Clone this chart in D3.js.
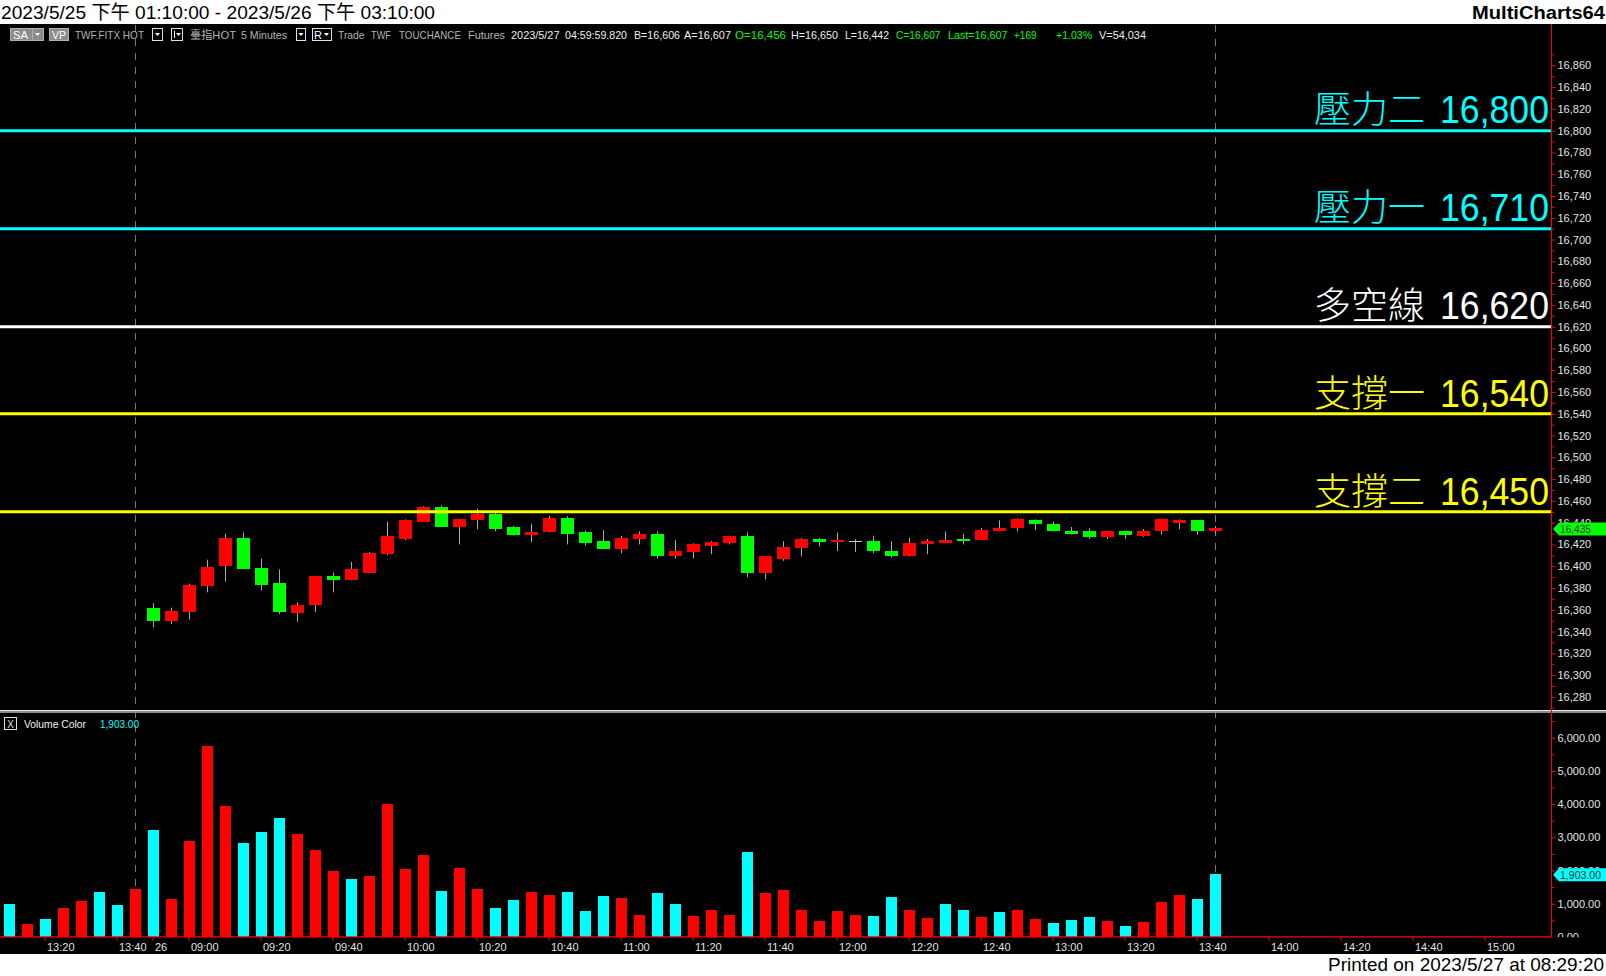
<!DOCTYPE html>
<html><head><meta charset="utf-8">
<script src="https://cdn.jsdelivr.net/npm/d3@7"></script>
<style>html,body{margin:0;padding:0;background:#fff;overflow:hidden}</style>
</head><body>
<svg id="c" width="1606" height="976"></svg>
<script>
// ---------------- DATA ----------------
const day1Times = ["13:10","13:15","13:20","13:25","13:30","13:35","13:40","13:45"];
const day2Times = ["08:50","08:55",
  "09:00","09:05","09:10","09:15","09:20","09:25","09:30","09:35","09:40","09:45","09:50","09:55",
  "10:00","10:05","10:10","10:15","10:20","10:25","10:30","10:35","10:40","10:45","10:50","10:55",
  "11:00","11:05","11:10","11:15","11:20","11:25","11:30","11:35","11:40","11:45","11:50","11:55",
  "12:00","12:05","12:10","12:15","12:20","12:25","12:30","12:35","12:40","12:45","12:50","12:55",
  "13:00","13:05","13:10","13:15","13:20","13:25","13:30","13:35","13:40","13:45"];
const day2EmptyTimes = ["13:50","13:55","14:00","14:05","14:10","14:15","14:20","14:25","14:30",
  "14:35","14:40","14:45","14:50","14:55","15:00","15:05","15:10"];

// OHLC (5/25 bars are outside the visible price range -> null)
const open  = [null,null,null,null,null,null,null,null,
  16362,16350,16358,16382,16400,16426,16398,16385,16357,16364,16391,16387,16394,16411,16425,16441,
  16454,16436,16442,16448,16436,16429,16431,16444,16431,16423,16416,16425,16430,16409,16413,16419,
  16421,16428,16394,16407,16417,16425,16422,16423,16423,16414,16409,16420,16421,16425,16424,16432,
  16435,16442,16439,16432,16432,16427,16432,16428,16432,16440,16442,16432];
const high  = [null,null,null,null,null,null,null,null,
  16366,16362,16384,16406,16430,16431,16407,16397,16367,16391,16394,16404,16413,16441,16443,16455,
  16456,16443,16453,16449,16437,16439,16446,16446,16433,16433,16428,16432,16432,16424,16421,16423,
  16428,16431,16409,16423,16426,16426,16431,16425,16428,16423,16426,16425,16432,16430,16435,16442,
  16444,16443,16441,16436,16435,16432,16432,16434,16443,16443,16442,16437];
const low   = [null,null,null,null,null,null,null,null,
  16344,16347,16351,16376,16386,16397,16378,16356,16349,16358,16376,16387,16394,16410,16424,16441,
  16436,16420,16434,16432,16428,16422,16431,16420,16419,16416,16412,16420,16407,16407,16407,16411,
  16420,16390,16388,16405,16409,16418,16414,16413,16412,16408,16409,16411,16421,16420,16424,16432,
  16432,16433,16432,16429,16425,16425,16425,16427,16429,16434,16429,16430];
const close = [null,null,null,null,null,null,null,null,
  16350,16359,16383,16399,16426,16397,16383,16358,16364,16391,16387,16397,16412,16428,16442,16454,
  16436,16443,16448,16434,16429,16431,16444,16430,16421,16416,16426,16430,16409,16414,16420,16422,
  16428,16394,16409,16418,16425,16422,16424,16423,16414,16409,16421,16423,16424,16423,16433,16435,
  16443,16439,16432,16430,16427,16432,16429,16432,16443,16442,16432,16435];

const volume = [979,398,551,857,1071,1346,949,1438,
  3213,1132,2876,5753,3947,2815,3152,3580,3091,2632,1989,1744,1836,4009,2050,2479,
  1377,2081,1438,857,1102,1346,1255,1346,774,1232,1171,651,1323,987,621,804,
  651,2545,1323,1415,804,468,774,651,621,1201,804,560,987,804,590,743,
  804,529,407,499,590,468,316,438,1049,1262,1140,1903];
const volumeDir = ["d","u","d","u","u","d","d","u",
  "d","u","u","u","u","d","d","d","u","u","u","d","u","u","u","u",
  "d","u","u","d","d","u","u","d","d","d","u","u","d","d","u","u",
  "u","d","u","u","u","u","u","u","d","d","u","u","d","d","u","d",
  "u","u","d","d","d","u","d","u","u","u","d","d"];

const levelValues = [16800, 16710, 16620, 16540, 16450];
const levelNames  = ["壓力二", "壓力一", "多空線", "支撐一", "支撐二"];

const priceTicks = [16280,16300,16320,16340,16360,16380,16400,16420,16440,16460,16480,16500,
  16520,16540,16560,16580,16600,16620,16640,16660,16680,16700,16720,16740,16760,16780,16800,
  16820,16840,16860];
const priceMinorTicks = [16270,16290,16310,16330,16350,16370,16390,16410,16430,16450,16470,16490,
  16510,16530,16550,16570,16590,16610,16630,16650,16670,16690,16710,16730,16750,16770,16790,
  16810,16830,16850,16870];
const volumeTicks = [0,1000,2000,3000,4000,5000,6000];
const volumeMinorTicks = [500,1500,2500,3500,4500,5500,6500];

const timeTickSlots  = ["5/25 13:20","5/25 13:40","5/26 08:50","5/26 09:00","5/26 09:20","5/26 09:40",
  "5/26 10:00","5/26 10:20","5/26 10:40","5/26 11:00","5/26 11:20","5/26 11:40","5/26 12:00",
  "5/26 12:20","5/26 12:40","5/26 13:00","5/26 13:20","5/26 13:40","5/26 14:00","5/26 14:20",
  "5/26 14:40","5/26 15:00"];
const timeTickLabels = ["13:20","13:40","26","09:00","09:20","09:40","10:00","10:20","10:40","11:00",
  "11:20","11:40","12:00","12:20","12:40","13:00","13:20","13:40","14:00","14:20","14:40","15:00"];
const sessionEnds = ["5/25 13:45","5/26 13:45"];

const titleText = "2023/5/25 下午 01:10:00 - 2023/5/26 下午 03:10:00";
const printedText = "Printed on 2023/5/27 at 08:29:20";

// ---------------- STYLE ----------------
const FONT = "'Liberation Sans', Arial, 'Noto Sans CJK TC', sans-serif";
const CJK = "'Noto Sans CJK TC', 'Noto Sans CJK SC', sans-serif";
const levelColor = name => name.startsWith("壓力") ? "#00ffff" : name.startsWith("支撐") ? "#ffff00" : "#ffffff";
const UP = "#ff0000", DOWN = "#00ff00", VUP = "#ff0000", VDOWN = "#00ffff";
const AXIS = "#ff0000", LABEL = "#e4e4e4";

// ---------------- SCALES ----------------
const barSlots = day1Times.map(t => "5/25 " + t).concat(day2Times.map(t => "5/26 " + t));
const slots = barSlots.concat(day2EmptyTimes.map(t => "5/26 " + t));
const x = d3.scaleBand().domain(slots).range([0, 1530]).padding(0);
const cx = s => x(s) + x.bandwidth() / 2;
const yP = d3.scaleLinear().domain([16280, 16860]).range([696.9, 65.3]);
const yV = d3.scaleLinear().domain([0, 6000]).range([936.9, 737.7]);
const AX = 1551.5;

const svg = d3.select("#c");
svg.append("rect").attr("width", 1606).attr("height", 976).attr("fill", "#fff");
svg.append("rect").attr("x", 0).attr("y", 24).attr("width", 1606).attr("height", 930).attr("fill", "#000");

const defs = svg.append("defs");
defs.append("clipPath").attr("id", "pp").append("rect").attr("x", 0).attr("y", 42).attr("width", 1551).attr("height", 667);
defs.append("clipPath").attr("id", "vp").append("rect").attr("x", 0).attr("y", 713).attr("width", 1551).attr("height", 224);
defs.append("clipPath").attr("id", "vax").append("rect").attr("x", 1540).attr("y", 713).attr("width", 66).attr("height", 224.3);
defs.append("clipPath").attr("id", "pax").append("rect").attr("x", 1540).attr("y", 42).attr("width", 66).attr("height", 667);

function narrow(sel, w) {
  sel.attr("textLength", w).attr("lengthAdjust", "spacingAndGlyphs");
  return sel;
}

// session end dashed lines
svg.append("g").selectAll("line").data(sessionEnds).join("line")
  .attr("x1", d => Math.round(cx(d)) + 0.5).attr("x2", d => Math.round(cx(d)) + 0.5)
  .attr("y1", 25).attr("y2", 936)
  .attr("stroke", "#7a7a7a").attr("stroke-width", 1).attr("stroke-dasharray", "7,7");

// ---------------- PRICE PANEL ----------------
const bars = barSlots.map((s, i) => ({ s, o: open[i], h: high[i], l: low[i], c: close[i] })).filter(d => d.o != null);
const gP = svg.append("g").attr("clip-path", "url(#pp)");
gP.selectAll("line.wick").data(bars).join("line").attr("class", "wick")
  .attr("x1", d => Math.round(cx(d.s)) + 0.5).attr("x2", d => Math.round(cx(d.s)) + 0.5)
  .attr("y1", d => yP(d.h)).attr("y2", d => yP(d.l))
  .attr("stroke", "#a8a8a8").attr("stroke-width", 1);
gP.selectAll("rect.body").data(bars).join("rect").attr("class", "body")
  .attr("shape-rendering", "crispEdges")
  .attr("x", d => Math.round(cx(d.s)) - 6).attr("width", 13)
  .attr("y", d => d.o === d.c ? yP(d.o) - 0.5 : yP(Math.max(d.o, d.c)))
  .attr("height", d => Math.max(1, Math.abs(yP(d.o) - yP(d.c))))
  .attr("fill", d => d.c > d.o ? UP : d.c < d.o ? DOWN : "#c8c8c8");

// level lines + labels
const gL = svg.append("g");
levelValues.forEach((v, i) => {
  const col = levelColor(levelNames[i]);
  const yy = yP(v);
  gL.append("line").attr("x1", 0).attr("x2", 1551).attr("y1", yy).attr("y2", yy)
    .attr("stroke", col).attr("stroke-width", 3);
  narrow(gL.append("text").attr("x", 1549).attr("y", yy - 7.2).attr("text-anchor", "end")
    .attr("font-family", FONT).attr("font-size", 38).attr("fill", col)
    .text(d3.format(",")(v)), 109);
  gL.append("text").attr("x", 1425).attr("y", yy - 7.2).attr("text-anchor", "end")
    .attr("font-family", CJK).attr("font-weight", 300).attr("font-size", 37).attr("fill", col)
    .text(levelNames[i]);
});

// ---------------- VOLUME PANEL ----------------
const vols = barSlots.map((s, i) => ({ s, v: volume[i], d: volumeDir[i] }));
svg.append("g").attr("clip-path", "url(#vp)").selectAll("rect").data(vols).join("rect")
  .attr("shape-rendering", "crispEdges")
  .attr("x", d => Math.round(cx(d.s)) - 5).attr("width", 11)
  .attr("y", d => yV(d.v)).attr("height", d => yV(0) - yV(d.v))
  .attr("fill", d => d.d === "u" ? VUP : VDOWN);

// separator between panels
svg.append("rect").attr("x", 0).attr("y", 710).attr("width", 1606).attr("height", 1.6).attr("fill", "#e8e8e8");
svg.append("rect").attr("x", 0).attr("y", 711.6).attr("width", 1606).attr("height", 1.4).attr("fill", "#8a8a8a");

// ---------------- AXES ----------------
function styleAxis(g) {
  g.select(".domain").remove();
  g.selectAll(".tick line").attr("stroke", AXIS);
  g.selectAll(".tick text").attr("fill", LABEL).attr("font-family", FONT).attr("font-size", 11);
}
const clipP = svg.append("g").attr("clip-path", "url(#pax)");
clipP.append("g").attr("transform", `translate(${AX},0)`)
  .call(d3.axisRight(yP).tickValues(priceTicks).tickSize(4).tickPadding(2).tickFormat(d3.format(",")))
  .call(styleAxis);
clipP.append("g").attr("transform", `translate(${AX},0)`)
  .call(d3.axisRight(yP).tickValues(priceMinorTicks).tickSize(3).tickFormat(""))
  .call(styleAxis);

const clipV = svg.append("g").attr("clip-path", "url(#vax)");
clipV.append("g").attr("transform", `translate(${AX},0)`)
  .call(d3.axisRight(yV).tickValues(volumeTicks).tickSize(4).tickPadding(2).tickFormat(d3.format(",.2f")))
  .call(styleAxis);
clipV.append("g").attr("transform", `translate(${AX},0)`)
  .call(d3.axisRight(yV).tickValues(volumeMinorTicks).tickSize(3).tickFormat(""))
  .call(styleAxis);

const labelMap = new Map(timeTickSlots.map((s, i) => [s, timeTickLabels[i]]));
const gta = svg.append("g").attr("transform", `translate(0,${yV(0)})`);
gta.call(d3.axisBottom(x).tickValues(timeTickSlots).tickSize(4).tickPadding(2).tickFormat(s => labelMap.get(s)))
  .call(styleAxis);
gta.selectAll(".tick text").attr("text-anchor", "start").attr("x", 2);

// axis lines
svg.append("line").attr("x1", AX).attr("x2", AX).attr("y1", 24).attr("y2", yV(0)).attr("stroke", AXIS).attr("stroke-width", 1);
svg.append("line").attr("x1", 0).attr("x2", AX).attr("y1", yV(0)).attr("y2", yV(0)).attr("stroke", AXIS).attr("stroke-width", 1.4);

// ---------------- MARKERS ----------------
function marker(yy, fill, txt, w) {
  const g = svg.append("g");
  g.append("path").attr("d", `M1553,${yy} L1559,${yy - 6.5} L1606,${yy - 6.5} L1606,${yy + 6.5} L1559,${yy + 6.5} Z`).attr("fill", fill);
  narrow(g.append("text").attr("x", 1560).attr("y", yy + 4).attr("font-family", FONT).attr("font-size", 11)
    .attr("fill", "#303030").text(txt), w);
}
const lastClose = close[close.length - 1];
const lastVol = volume[volume.length - 1];
marker(yP(lastClose) + 1, "#00ff00", d3.format(",")(lastClose), 31);
marker(yV(lastVol) + 1, "#00ffff", d3.format(",.2f")(lastVol), 41);

// volume panel header
svg.append("rect").attr("x", 4.5).attr("y", 717.5).attr("width", 12).attr("height", 12).attr("fill", "none").attr("stroke", "#e0e0e0");
svg.append("text").attr("x", 10.5).attr("y", 727.5).attr("text-anchor", "middle").attr("font-family", FONT).attr("font-size", 10).attr("fill", "#e0e0e0").text("X");
narrow(svg.append("text").attr("x", 24).attr("y", 727.5).attr("font-family", FONT).attr("font-size", 11).attr("fill", "#f0f0f0").text("Volume Color"), 62);
narrow(svg.append("text").attr("x", 100).attr("y", 727.5).attr("font-family", FONT).attr("font-size", 11).attr("fill", "#00ffff").text(d3.format(",.2f")(lastVol)), 39);

// ---------------- HEADER / TOOLBAR ----------------
narrow(svg.append("text").attr("x", 1).attr("y", 19).attr("font-family", FONT).attr("font-size", 19).attr("fill", "#000").text(titleText), 434);
narrow(svg.append("text").attr("x", 1605).attr("y", 19).attr("text-anchor", "end").attr("font-family", FONT).attr("font-weight", "bold").attr("font-size", 19).attr("fill", "#000").text("MultiCharts64"), 133);
narrow(svg.append("text").attr("x", 1604).attr("y", 971).attr("text-anchor", "end").attr("font-family", FONT).attr("font-size", 19).attr("fill", "#000").text(printedText), 276);

const tb = svg.append("g");
function box(x0, x1, fill, stroke) {
  tb.append("rect").attr("x", x0 + 0.5).attr("y", 28.5).attr("width", x1 - x0).attr("height", 12)
    .attr("fill", fill).attr("stroke", stroke);
}
function tri(xc) {
  tb.append("path").attr("d", `M${xc - 2.5},33 L${xc + 2.5},33 L${xc},36 Z`).attr("fill", "#fff");
}
box(10, 32, "#8c8c8c", "#b0b0b0"); box(32, 43, "#8c8c8c", "#b0b0b0"); tri(37.5);
box(49, 68, "#8c8c8c", "#b0b0b0");
box(152, 162, "#000", "#e0e0e0"); tri(157.5);
box(171, 182, "#000", "#e0e0e0"); tri(178.5);
tb.append("line").attr("x1", 174.5).attr("x2", 174.5).attr("y1", 31).attr("y2", 38).attr("stroke", "#fff");
box(296, 305, "#000", "#e0e0e0"); tri(301);
box(312, 331, "#000", "#e0e0e0"); tri(326.5);
const GRAY = "#b4b4b4", WHITE = "#f0f0f0", GREEN = "#00ff00";
const tbItems = [
  [13, "SA", "#ffffff", 15], [52, "VP", "#ffffff", 14],
  [75, "TWF.FITX HOT", GRAY, 69], [190, "臺指HOT", GRAY, 46], [241, "5 Minutes", GRAY, 46],
  [314, "R", "#ffffff", 8],
  [338, "Trade", GRAY, 26.5], [371, "TWF", GRAY, 20], [399, "TOUCHANCE", GRAY, 62], [468, "Futures", GRAY, 37],
  [511, "2023/5/27", WHITE, 48.5], [565, "04:59:59.820", WHITE, 62], [634, "B=16,606", WHITE, 46],
  [684, "A=16,607", WHITE, 47], [735, "O=16,456", GREEN, 51], [791, "H=16,650", WHITE, 47],
  [845, "L=16,442", WHITE, 44], [896, "C=16,607", GREEN, 44.5], [948, "Last=16,607", GREEN, 59.5],
  [1014, "+169", GREEN, 22.5], [1056, "+1.03%", GREEN, 36], [1099, "V=54,034", WHITE, 47]
];
tbItems.forEach(([xx, t, c, w]) => {
  narrow(tb.append("text").attr("x", xx).attr("y", 38.5).attr("font-family", FONT).attr("font-size", 11)
    .attr("fill", c).text(t), w);
});
</script>
</body></html>
